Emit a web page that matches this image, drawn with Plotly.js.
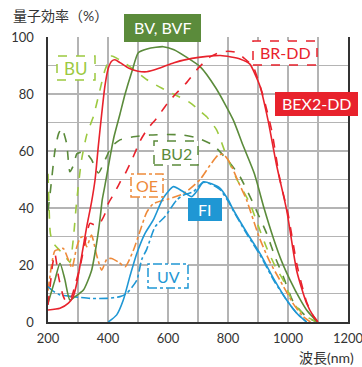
<!DOCTYPE html>
<html>
<head>
<meta charset="utf-8">
<script src="https://cdn.plot.ly/plotly-3.0.1.min.js"></script>
<style>
html,body{margin:0;padding:0;background:#fff;}
#chart{width:362px;height:367px;}
</style>
</head>
<body>
<div id="chart"></div>
<script>
// ---- data (wavelength nm, quantum efficiency %) ----
const bex2_x = [200,240,268,284,296,312,329,345,357,368,379,390,401,412,423,440,470,500,529,570,620,680,730,775,810,840,873,890,907,933,962,996,1029,1062,1085,1100];
const bex2_y = [4.2,4.8,6.6,8.9,13.6,23,33.4,42,50,62,73,83,89,91.5,92,91,89,88,87.8,89,91,92.5,93.2,93.5,93,92.3,90.5,87,82.6,71,55,39,18,6.6,2,0];

const brdd_x = [200,207,215,223,235,251,262,279,293,307,323,340,357,373,390,401,420,440,457,480,507,530,562,600,630,662,700,740,770,800,830,860,884,900,918,946,973,1000,1030,1062,1085,1100];
const brdd_y = [6,12.4,20,24,16,9,7,9,14,19.4,27.6,34.6,34,34.7,38,41.6,45,49,52,57,63.5,67.5,71.5,77,80.5,84,89,93,94.5,95,94.5,92,89.6,85,79,67,50,38,20,7,2,0];

const bv_x = [200,223,240,256,273,290,318,345,362,373,381,390,407,420,440,457,480,501,530,560,584,620,660,707,760,817,850,888,920,951,980,1007,1040,1062,1080,1097];
const bv_y = [6.6,14.7,20.6,15,7.7,8.9,11.2,18,27.6,35.8,43,48,58,65,73,80,88,94.5,95.8,96.4,96.6,95.5,93,89.6,82,71,62,52,40,29.5,21,14.7,8,4.2,2,0];

const bu_x = [200,203,208,218,240,257,273,284,296,312,330,351,370,390,412,430,473,530,580,618,673,707,729,762,796,830,873,900,929,960,984,1018,1060,1097];
const bu_y = [52,42,31,27.6,25,23,21,28.8,42.8,57,66,72,80,88.4,93.3,92.5,89.6,85,82,80,77,74,72,67.4,58,50,41.6,34,26,19,14.7,6.6,2,0];

const bu2_x = [200,207,223,235,246,262,273,285,296,307,323,345,368,390,412,440,484,540,600,651,700,751,807,840,884,929,960,984,1018,1060,1095];
const bu2_y = [39,45,60,66,68,62.7,52.7,55,59,59.5,59.8,57,52.3,56.8,61.5,63.9,65,65.6,65.8,65.6,64.5,62,55.7,51,41.6,31,22,16,7,2,0];

const oe_x = [200,212,223,240,251,268,280,295,307,318,329,345,362,379,396,412,435,457,484,507,529,551,596,651,707,740,768,785,807,835,862,903,940,973,1020,1050,1075];
const oe_y = [11,20,25,25.5,25.8,21.8,19,26,29.4,30,26.4,30.5,23.5,18.2,22,22.3,21,19.4,25,32,38.5,41.5,43,45,50,55,58.6,58.8,55.7,49,42.8,30,21,14.7,6,2,0];

const fi_x = [401,429,451,473,496,523,551,584,618,651,679,700,718,745,773,800,818,862,907,955,1000,1030,1062];
const fi_y = [0,2.5,7.7,16,24,31,35.8,43.5,47.5,45.7,44,46.5,49.2,48.5,47,43,39.3,31.5,24,14.7,7,3,0];

const uv_x = [200,215,240,284,340,396,440,462,496,512,529,557,590,629,651,684,718,745,773,800,818,862,907,955,1000,1030,1062];
const uv_y = [12.4,11,9.5,8.9,8.3,8.3,8.9,10,14.7,21.8,25.5,33.4,37,42.8,44.5,45.7,49,48.3,46.5,42.5,39,31,23.5,14.2,7,3,0];

const xTickVals = [200,400,600,800,1000,1200];
const xTickText = ['200','400','600','800','1000','1200'];
const yTickVals = [0,20,40,60,80,100];
const yTickText = ['0','20','40','60','80','100'];

// ---- styles ----
const RED = '#e8222c', DKGREEN = '#5b8b3b', LTGREEN = '#9cc93f', ORANGE = '#ee8a3a', BLUE = '#1f97d4';
const FONT = "Lato, 'Noto Sans CJK JP', sans-serif";

function tr(x, y, color, dash) {
  return {x: x, y: y, type: 'scatter', mode: 'lines', hoverinfo: 'skip',
    line: {color: color, width: 1.6, dash: dash, shape: 'spline', smoothing: 0.6}};
}
const data = [
  tr(bu2_x, bu2_y, DKGREEN, 'dash'),
  tr(bu_x, bu_y, LTGREEN, 'dash'),
  tr(oe_x, oe_y, ORANGE, 'dashdot'),
  tr(uv_x, uv_y, BLUE, 'dashdot'),
  tr(fi_x, fi_y, BLUE, 'solid'),
  tr(bv_x, bv_y, DKGREEN, 'solid'),
  tr(brdd_x, brdd_y, RED, 'dash'),
  tr(bex2_x, bex2_y, RED, 'solid')
];

// pixel -> paper helpers (plot area 48..348 x, 37..322 y)
const L = 48, T = 37, W = 300, H = 285;
const PX = p => (p - L) / W;
const PY = p => (T + H - p) / H;

const shapes = [];
const annotations = [];
function box(x0, y0, x1, y1, text, color, filled, dash, size) {
  shapes.push({type: 'rect', xref: 'paper', yref: 'paper', layer: 'above',
    x0: PX(x0), x1: PX(x1), y0: PY(y1), y1: PY(y0),
    fillcolor: filled ? color : '#ffffff',
    line: {color: color, width: filled ? 0 : 1.5, dash: dash}});
  annotations.push({xref: 'paper', yref: 'paper', x: PX((x0 + x1) / 2), y: PY((y0 + y1) / 2),
    xanchor: 'center', yanchor: 'middle', showarrow: false, text: text,
    font: {family: FONT, size: size, color: filled ? '#ffffff' : color}});
}
box(124, 14, 201, 42, 'BV, BVF', DKGREEN, true, 'solid', 16);
box(57, 56, 95, 80, 'BU', LTGREEN, false, 'dash', 17);
box(253, 41, 317, 65, 'BR-DD', RED, false, 'dash', 16);
box(275, 92, 358, 116, 'BEX2-DD', RED, true, 'solid', 16);
box(154, 141, 198, 165, 'BU2', DKGREEN, false, 'dash', 16);
box(131, 174, 163, 197, 'OE', ORANGE, false, 'dashdot', 16);
box(188, 198, 222, 221, 'FI', BLUE, true, 'solid', 16);
box(148, 264, 188, 288, 'UV', BLUE, false, 'dashdot', 16);

annotations.push({xref: 'paper', yref: 'paper', x: PX(11), y: PY(16), xanchor: 'left', yanchor: 'middle',
  showarrow: false, text: '量子効率（%）', font: {family: FONT, size: 14, color: '#333333'}});
annotations.push({xref: 'paper', yref: 'paper', x: PX(297), y: PY(357), xanchor: 'left', yanchor: 'middle',
  showarrow: false, text: '波長(nm)', font: {family: FONT, size: 14, color: '#333333'}});

const GRID = '#b4b4b4';
const layout = {
  width: 362, height: 367,
  margin: {l: L, r: 362 - L - W, t: T, b: 367 - T - H, pad: 0},
  paper_bgcolor: '#ffffff', plot_bgcolor: '#ffffff',
  showlegend: false,
  font: {family: FONT, size: 13, color: '#333333'},
  xaxis: {range: [200, 1200], tickvals: xTickVals, ticktext: xTickText, showgrid: true,
    gridcolor: GRID, gridwidth: 1.2, zeroline: false, showline: true, linecolor: '#333333', linewidth: 1.6,
    ticks: '', ticklabelstandoff: 4, ticklabeloverflow: 'allow',
    tickfont: {family: FONT, size: 13, color: '#333333'},
    minor: {dtick: 100, tick0: 200, showgrid: true, gridcolor: GRID, gridwidth: 1.2}, fixedrange: true},
  yaxis: {range: [0, 100], tickvals: yTickVals, ticktext: yTickText, showgrid: true,
    gridcolor: GRID, gridwidth: 1.2, zeroline: false, showline: true, mirror: true, linecolor: '#333333', linewidth: 1.6,
    ticks: '', ticklabelstandoff: 10, tickfont: {family: FONT, size: 13, color: '#333333'},
    minor: {dtick: 10, tick0: 0, showgrid: true, gridcolor: GRID, gridwidth: 1.2}, fixedrange: true},
  shapes: shapes,
  annotations: annotations
};

Plotly.newPlot('chart', data, layout, {staticPlot: true, displayModeBar: false});
</script>
</body>
</html>
